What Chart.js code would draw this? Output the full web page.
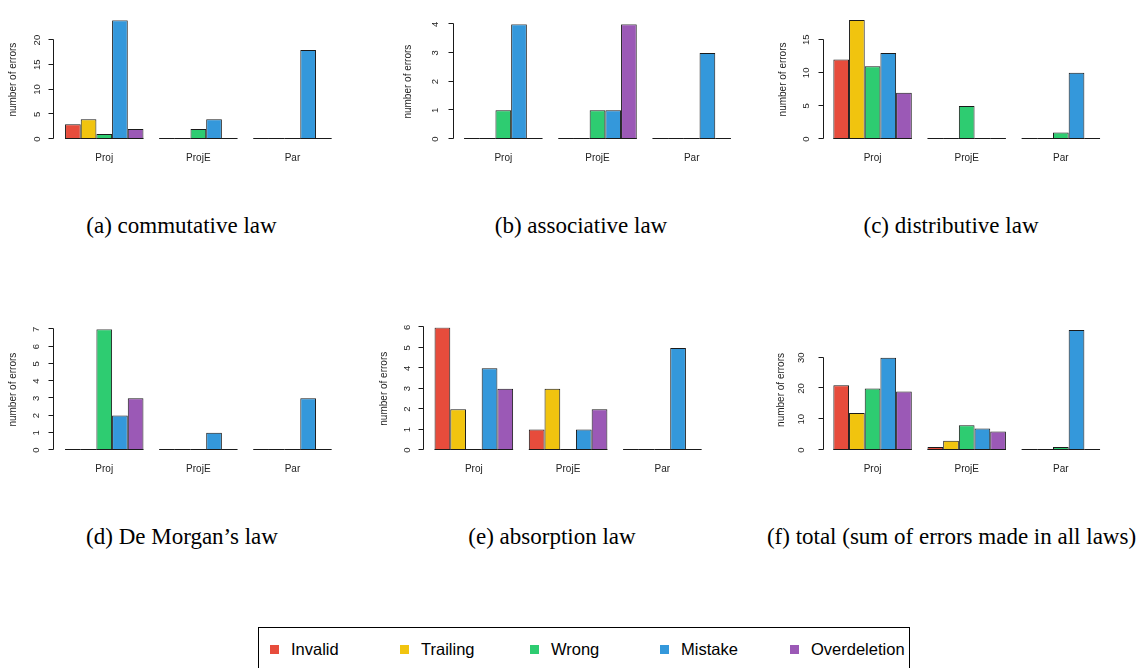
<!DOCTYPE html>
<html>
<head>
<meta charset="utf-8">
<script src="https://cdn.jsdelivr.net/npm/chart.js@4.4.1/dist/chart.umd.min.js"></script>
<style>
body { margin: 0; background: #fff; }
#wrap { position: relative; width: 1143px; height: 668px; overflow: hidden; }
#wrap canvas { position: absolute; }
.cap { position: absolute; width: 500px; text-align: center; white-space: nowrap;
  font-family: "Liberation Serif", "Times New Roman", serif; font-size: 23px; line-height: 23px; color: #000; }
#legend { position: absolute; left: 258px; top: 627px; width: 650px; height: 60px; border: 1px solid #000; }
.item { position: absolute; top: 11px; height: 20px; line-height: 20px; white-space: nowrap;
  font-family: "Liberation Sans", Arial, sans-serif; font-size: 16.5px; color: #000; }
.sw { display: inline-block; width: 9px; height: 9px; margin-right: 12px; vertical-align: 1px; }
</style>
</head>
<body>
<div id="wrap">
  <div id="legend"></div>
</div>
<script>
'use strict';

var groups = ['Proj', 'ProjE', 'Par'];
var series = ['Invalid', 'Trailing', 'Wrong', 'Mistake', 'Overdeletion'];
var colors = ['#E74C3C', '#F1C40F', '#2ECC71', '#3498DB', '#9B59B6'];

// one row per series (Invalid..Overdeletion), one value per group (Proj, ProjE, Par)
var commutative  = [[3, 0, 0], [4, 0, 0], [1, 2, 0], [24, 4, 18], [2, 0, 0]];
var associative  = [[0, 0, 0], [0, 0, 0], [1, 1, 0], [4, 1, 3], [0, 4, 0]];
var distributive = [[12, 0, 0], [18, 0, 0], [11, 5, 1], [13, 0, 10], [7, 0, 0]];
var deMorgan     = [[0, 0, 0], [0, 0, 0], [7, 0, 0], [2, 1, 3], [3, 0, 0]];
var absorption   = [[6, 1, 0], [2, 3, 0], [0, 0, 0], [4, 1, 5], [3, 2, 0]];
var total        = [[21, 1, 0], [12, 3, 0], [20, 8, 1], [30, 7, 39], [19, 6, 0]];

var tickSteps = [5, 1, 5, 1, 1, 10];
var captions = ['(a) commutative law', '(b) associative law', '(c) distributive law',
  '(d) De Morgan\u2019s law', '(e) absorption law', '(f) total (sum of errors made in all laws)'];
var yTitle = 'number of errors';

// page layout of each panel (pixels)
var panels = [
  {data: commutative,  cl: -10, ct: 0,   cw: 400, ch: 185, L: 57.2,  R: 339.5,  T: 10,    B: 139, ax: 53.3,  tx: 13.3,  lx: 37.3,  capX: 181.5, capY: 214},
  {data: associative,  cl: 370, ct: 0,   cw: 400, ch: 185, L: 456.2, R: 738.8,  T: 10,    B: 139, ax: 453.3, tx: 408.3, lx: 435,   capX: 581,   capY: 214},
  {data: distributive, cl: 750, ct: 0,   cw: 393, ch: 185, L: 825.5, R: 1107.9, T: 10,    B: 139, ax: 823.3, tx: 783.3, lx: 806,   capX: 951,   capY: 214},
  {data: deMorgan,     cl: -10, ct: 305, cw: 400, ch: 185, L: 57.2,  R: 339.5,  T: 320.7, B: 450, ax: 53.3,  tx: 13.3,  lx: 36,    capX: 182,   capY: 525},
  {data: absorption,   cl: 370, ct: 305, cw: 400, ch: 185, L: 426.7, R: 709.5,  T: 320.7, B: 450, ax: 423.3, tx: 384,   lx: 407.3, capX: 552,   capY: 525},
  {data: total,        cl: 750, ct: 305, cw: 393, ch: 185, L: 825.5, R: 1107.9, T: 320.7, B: 450, ax: 823.3, tx: 781.7, lx: 801,   capX: 951.5, capY: 525}
];

Chart.defaults.font.family = '"Liberation Sans", Arial, sans-serif';
var TICK_FONT = 9.5;
var LABEL_FONT = 10;
var measure = document.createElement('canvas').getContext('2d');
measure.font = TICK_FONT + 'px "Liberation Sans"';

// R-style axis: line only from 0 to last tick, ticks pointing out; zero bars as flat outlines
var rAxis = {
  id: 'rAxis',
  afterDatasetsDraw: function(chart, args, opts) {
    var c = chart.ctx;
    var y = chart.scales.y;
    c.save();
    c.strokeStyle = '#1a1a1a';
    c.lineWidth = 1;
    chart.data.datasets.forEach(function(ds, i) {
      chart.getDatasetMeta(i).data.forEach(function(bar) {
        c.beginPath();
        c.moveTo(bar.x - bar.width / 2, bar.base - 0.5);
        c.lineTo(bar.x + bar.width / 2, bar.base - 0.5);
        c.stroke();
      });
    });
    var x = Math.round(opts.axisX) + 0.5;
    var ticks = y.ticks;
    var y0 = y.getPixelForValue(ticks[0].value);
    var y1 = y.getPixelForValue(ticks[ticks.length - 1].value);
    c.beginPath();
    c.moveTo(x, Math.round(y0) - 0.5);
    c.lineTo(x, Math.round(y1) - 0.5);
    ticks.forEach(function(t) {
      var py = Math.round(y.getPixelForValue(t.value)) - 0.5;
      c.moveTo(x, py);
      c.lineTo(x - 5, py);
    });
    c.stroke();
    c.restore();
  }
};

var wrap = document.getElementById('wrap');

panels.forEach(function(p, k) {
  var canvas = document.createElement('canvas');
  canvas.width = p.cw;
  canvas.height = p.ch;
  canvas.style.left = p.cl + 'px';
  canvas.style.top = p.ct + 'px';
  wrap.appendChild(canvas);

  var maxVal = 0;
  p.data.forEach(function(row) { row.forEach(function(v) { if (v > maxVal) maxVal = v; }); });
  var step = tickSteps[k];
  var lastTick = Math.floor(maxVal / step) * step;
  var widest = 0;
  for (var v = 0; v <= lastTick; v += step) {
    widest = Math.max(widest, measure.measureText(String(v)).width);
  }

  var yWidth = (p.L - p.tx) + LABEL_FONT * 1.2 / 2;
  var tickPad = (p.L - p.lx) - widest / 2;
  var xHeight = 30;

  var datasets = series.map(function(name, i) {
    return {
      label: name,
      data: p.data[i],
      backgroundColor: colors[i],
      borderColor: '#1a1a1a',
      borderWidth: 1,
      borderSkipped: false,
      categoryPercentage: 5 / 6,
      barPercentage: 1
    };
  });

  new Chart(canvas, {
    type: 'bar',
    data: {labels: groups, datasets: datasets},
    options: {
      responsive: false,
      animation: false,
      devicePixelRatio: 1,
      layout: {
        padding: {
          left: p.L - yWidth - p.cl,
          right: p.cl + p.cw - p.R,
          top: p.T - p.ct,
          bottom: p.ct + p.ch - p.B - xHeight
        }
      },
      plugins: {
        legend: {display: false},
        tooltip: {enabled: false},
        rAxis: {axisX: p.ax - p.cl}
      },
      scales: {
        x: {
          grid: {display: false, drawTicks: false},
          border: {display: false},
          ticks: {font: {size: LABEL_FONT}, color: '#222', padding: 13.3},
          afterFit: function(s) { s.height = xHeight; }
        },
        y: {
          min: 0,
          max: maxVal,
          grid: {display: false, drawTicks: false},
          border: {display: false},
          ticks: {
            stepSize: step,
            includeBounds: false,
            minRotation: 90,
            maxRotation: 90,
            crossAlign: 'center',
            padding: tickPad,
            font: {size: TICK_FONT},
            color: '#222'
          },
          title: {display: true, text: yTitle, font: {size: LABEL_FONT}, color: '#222', padding: 0},
          afterFit: function(s) { s.width = yWidth; }
        }
      }
    },
    plugins: [rAxis]
  });

  var cap = document.createElement('div');
  cap.className = 'cap';
  cap.textContent = captions[k];
  cap.style.left = (p.capX - 250) + 'px';
  cap.style.top = p.capY + 'px';
  wrap.appendChild(cap);
});

var legend = document.getElementById('legend');
series.forEach(function(name, i) {
  var item = document.createElement('div');
  item.className = 'item';
  item.style.left = (11 + i * 130) + 'px';
  var sw = document.createElement('span');
  sw.className = 'sw';
  sw.style.background = colors[i];
  item.appendChild(sw);
  item.appendChild(document.createTextNode(name));
  legend.appendChild(item);
});
</script>
</body>
</html>
